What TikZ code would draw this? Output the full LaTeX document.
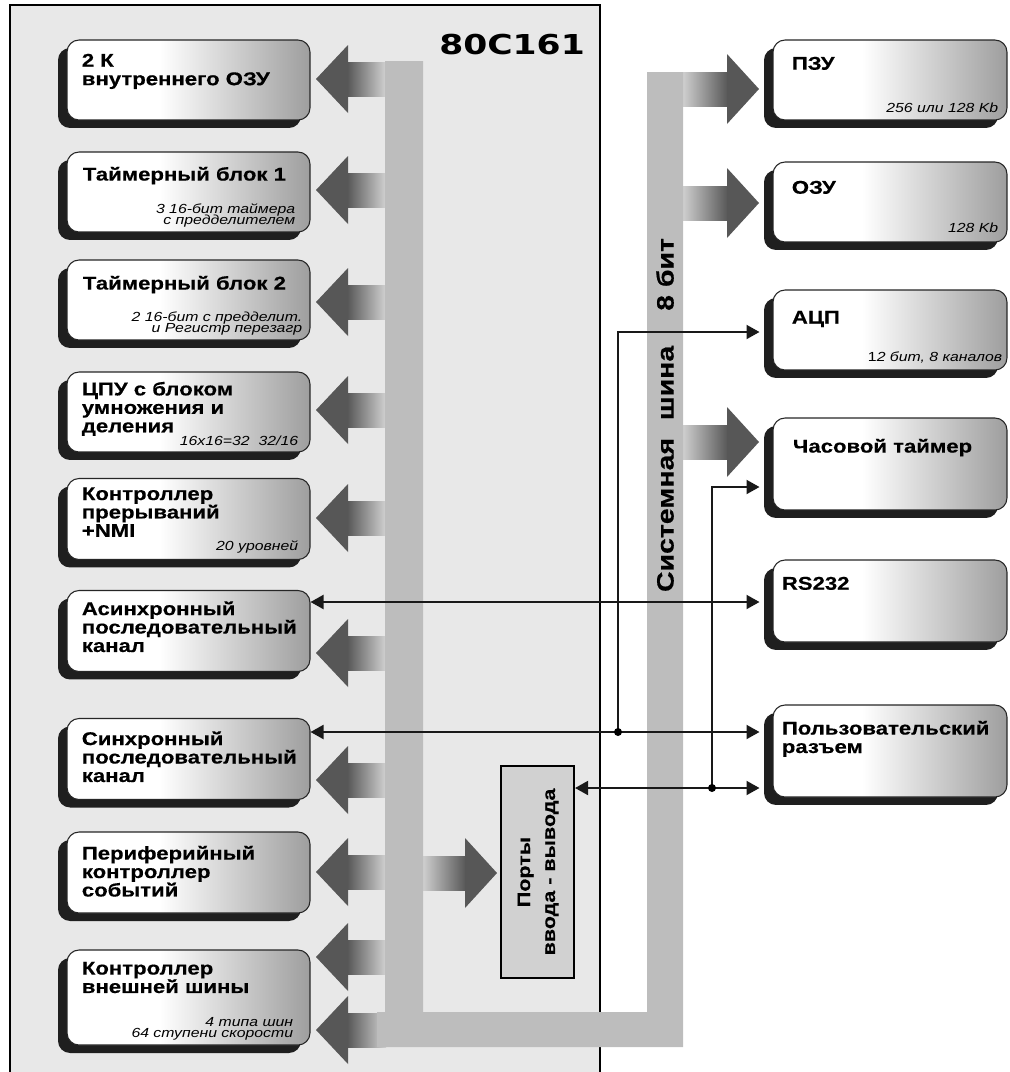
\documentclass[tikz,border=0pt]{standalone}
\usepackage{fontspec}
\setmainfont{Liberation Sans}[FakeStretch=1.2, BoldFeatures={FakeBold=0.4}]
\newfontfamily\chipfont{DejaVu Sans}[FakeStretch=1.26]
\usetikzlibrary{arrows.meta, shadows}
\colorlet{chipgray}{black!9}
\colorlet{busgray}{black!26}
\colorlet{arrowgray}{black!66}
\colorlet{portgray}{black!18}
\pgfdeclarehorizontalshading{blockshade}{100bp}{color(0bp)=(white); color(25bp)=(white); color(44bp)=(white); color(75bp)=(black!38); color(100bp)=(black!38)}
\newcommand{\titlefont}{\fontsize{10.5}{10.5}\selectfont\bfseries\lineskiplimit=-10pt\relax}
\newcommand{\notefont}{\fontsize{7.5}{6.4}\selectfont\itshape\lineskiplimit=-10pt\relax}
\tikzset{
  block/.style={draw=black!85, line width=0.6pt, rounded corners=0.24cm, shade, shading=blockshade,
    minimum width=4.86cm, minimum height=1.62cm, inner sep=0pt,
    drop shadow={opacity=1, fill=black!88, shadow xshift=-0.18cm, shadow yshift=-0.16cm}},
  outblock/.style={block, minimum width=4.68cm},
  title/.style={font=\titlefont, align=left, inner sep=0pt, anchor=north west},
  note/.style={font=\notefont, align=right, inner sep=0pt, anchor=base east},
  link/.style={line width=1.1pt, draw=black!90},
}

\begin{document}
\begin{tikzpicture}[x=0.02cm, y=-0.02cm, >={Triangle[length=0.26cm, width=0.28cm]}]
  \useasboundingbox (0,0) rectangle (1010,1072);
  \clip (0,0) rectangle (1010,1072);

  % chip outline
  \filldraw[fill=chipgray, line width=1.4pt] (10,5) rectangle (600,1100);
  \node[font=\chipfont\fontsize{15.6}{16}\selectfont\bfseries] (chip) at (512,45) {80C161};

  % wide arrows: internal bus -> blocks
  \foreach \y in {79,190,302,410,518,653,780,872,957,1030} {
    \shade[left color=arrowgray, right color=black!18] (347,\y-17) rectangle (386,\y+17);
    \fill[arrowgray] (316,\y) -- (348,\y-34) -- (348,\y+34) -- cycle;
  }
  % wide arrows: system bus -> outer blocks
  \foreach \y in {89,203,442} {
    \shade[left color=black!18, right color=arrowgray] (682,\y-17) rectangle (728,\y+17);
    \fill[arrowgray] (727,\y-35) -- (759,\y) -- (727,\y+35) -- cycle;
  }
  \shade[left color=black!18, right color=arrowgray] (422,856) rectangle (466,890);
  \fill[arrowgray] (465,838) -- (497,873) -- (465,908) -- cycle;

  % buses
  \fill[busgray] (385,61) -- (423,61) -- (423,1012) -- (647,1012) -- (647,72) -- (683,72)
    -- (683,1047) -- (377,1047) -- (377,1012) -- (385,1012) -- cycle;
  \node[rotate=90, font=\fontsize{13.5}{14}\selectfont\bfseries] (sysbus) at (665,415)
    {Системная\hspace{0.36cm}шина\hspace{0.7cm}8 бит};

  % internal blocks
  \node[block, minimum height=1.6cm] (ram) at (188.5,80) {};
  \node[block, minimum height=1.6cm] (tim1) at (188.5,192) {};
  \node[block, minimum height=1.6cm] (tim2) at (188.5,300) {};
  \node[block, minimum height=1.6cm] (cpu) at (188.5,412) {};
  \node[block] (irq) at (188.5,519) {};
  \node[block] (asc) at (188.5,631) {};
  \node[block] (ssc) at (188.5,759) {};
  \node[block] (pec) at (188.5,872.5) {};
  \node[block, minimum height=1.9cm] (ebc) at (188.5,997.5) {};

  \node[title] (ram-t) at ([shift={(15,14)}]ram.north west) {2 К\\внутреннего ОЗУ};
  \node[title] (tim1-t) at ([shift={(16,15)}]tim1.north west) {Таймерный блок 1};
  \node[note] (tim1-n) at ([shift={(-15,-8)}]tim1.south east) {3 16-бит таймера\\с предделителем};
  \node[title] (tim2-t) at ([shift={(16,16)}]tim2.north west) {Таймерный блок 2};
  \node[note] (tim2-n) at ([shift={(-8,-8)}]tim2.south east) {2 16-бит с предделит.\\и Регистр перезагр};
  \node[title] (cpu-t) at ([shift={(15,10)}]cpu.north west) {ЦПУ с блоком\\умножения и\\деления};
  \node[note] (cpu-n) at ([shift={(-12,-7)}]cpu.south east) {16x16=32\ \ 32/16};
  \node[title] (irq-t) at ([shift={(15,9)}]irq.north west) {Контроллер\\прерываний\\+NMI};
  \node[note] (irq-n) at ([shift={(-12,-10)}]irq.south east) {20 уровней};
  \node[title] (asc-t) at ([shift={(15,11)}]asc.north west) {Асинхронный\\последовательный\\канал};
  \node[title] (ssc-t) at ([shift={(15,13)}]ssc.north west) {Синхронный\\последовательный\\канал};
  \node[title] (pec-t) at ([shift={(15,14)}]pec.north west) {Периферийный\\контроллер\\событий};
  \node[title] (ebc-t) at ([shift={(15,12)}]ebc.north west) {Контроллер\\внешней шины};
  \node[note] (ebc-n) at ([shift={(-17,-8)}]ebc.south east) {4 типа шин\\64 ступени скорости};

  % ports
  \node[draw, fill=portgray, line width=1.2pt, minimum width=1.46cm, minimum height=4.24cm, inner sep=0pt] (io) at (537.5,872)
    {\rotatebox{90}{\fontsize{10.2}{14.2}\selectfont\bfseries\begin{tabular}{@{}c@{}}Порты\\ввода - вывода\end{tabular}}};

  % outer blocks
  \node[outblock, minimum height=1.6cm] (rom) at (890,80) {};
  \node[outblock, minimum height=1.6cm] (xram) at (890,202) {};
  \node[outblock, minimum height=1.6cm] (adc) at (890,330) {};
  \node[outblock, minimum height=1.84cm] (rtc) at (890,464) {};
  \node[outblock, minimum height=1.64cm] (rs) at (890,601) {};
  \node[outblock, minimum height=1.84cm] (usr) at (890,751) {};

  \node[title] (rom-t) at ([shift={(19,17)}]rom.north west) {ПЗУ};
  \node[note] (rom-n) at ([shift={(-9,-8)}]rom.south east) {256 или 128 Kb};
  \node[title] (xram-t) at ([shift={(19,19)}]xram.north west) {ОЗУ};
  \node[note] (xram-n) at ([shift={(-9,-10)}]xram.south east) {128 Kb};
  \node[title] (adc-t) at ([shift={(19,21)}]adc.north west) {АЦП};
  \node[note] (adc-n) at ([shift={(-5,-9)}]adc.south east) {{\upshape 1}2 бит, 8 каналов};
  \node[title] (rtc-t) at ([shift={(20,21)}]rtc.north west) {Часовой таймер};
  \node[title] (rs-t) at ([shift={(9,17)}]rs.north west) {RS232};
  \node[title] (usr-t) at ([shift={(9,16)}]usr.north west) {Пользовательский\\разъем};

  % serial and port lines
  \coordinate (j1) at (618,732);
  \coordinate (j2) at (712,788);
  \draw[link, <->, shorten >=0.26cm] (asc.east |- 0,602) -- (rs.west |- 0,602);
  \draw[link, <->, shorten >=0.26cm] (ssc.east |- 0,732) -- (usr.west |- 0,732);
  \draw[link, <->, shorten >=0.26cm] (io.east |- 0,788) -- (usr.west |- 0,788);
  \draw[link, ->, shorten >=0.26cm] (j1) |- (adc.west |- 0,332);
  \draw[link, ->, shorten >=0.26cm] (j2) |- (rtc.west |- 0,487);
  \fill (j1) circle (0.08cm);
  \fill (j2) circle (0.08cm);
\end{tikzpicture}
\end{document}
